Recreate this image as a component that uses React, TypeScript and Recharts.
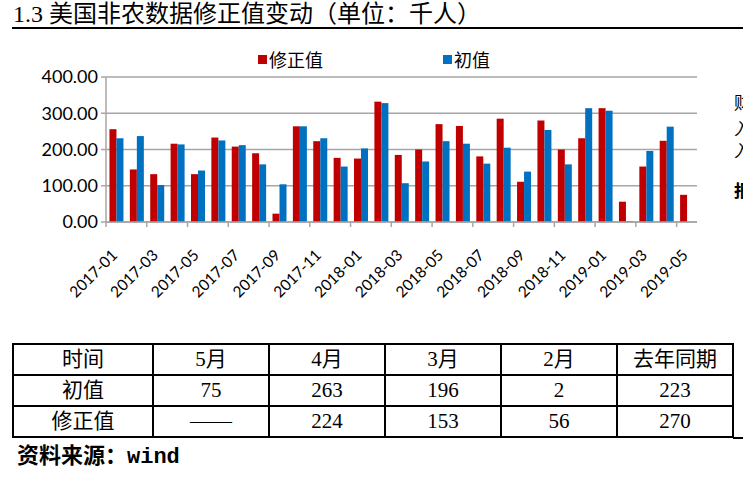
import React from "react";
import { BarChart, Bar, XAxis, YAxis, CartesianGrid, Legend } from "recharts";

const months = [
  "2017-01", "2017-02", "2017-03", "2017-04", "2017-05", "2017-06", "2017-07", "2017-08",
  "2017-09", "2017-10", "2017-11", "2017-12", "2018-01", "2018-02", "2018-03", "2018-04",
  "2018-05", "2018-06", "2018-07", "2018-08", "2018-09", "2018-10", "2018-11", "2018-12",
  "2019-01", "2019-02", "2019-03", "2019-04", "2019-05",
];
const revised = [
  256, 145, 132, 216, 132, 233, 208, 190, 23, 264, 223, 177, 175, 332, 185, 200,
  270, 265, 181, 285, 111, 280, 200, 231, 314, 56, 153, 224, 75,
];
const initial = [
  231, 237, 102, 214, 142, 225, 212, 159, 104, 264, 231, 153, 203, 328, 107, 167,
  223, 216, 161, 205, 139, 254, 159, 314, 307, 2, 196, 263, null,
];
const yTicks = [0, 100, 200, 300, 400];

const tableHead = ["时间", "5月", "4月", "3月", "2月", "去年同期"];
const tableInitial = ["初值", "75", "263", "196", "2", "223"];
const tableRevised = ["修正值", "——", "224", "153", "56", "270"];

const RED = "#C00000";
const BLUE = "#0070C0";
const GRID = "#a6a6a6";
const LABEL_FONT = "Lato, 'Noto Sans CJK SC', sans-serif";
const CJK = "'Liberation Serif', 'Noto Sans CJK SC', serif";

const chartData = months.map((m, i) => ({
  month: m,
  修正值: revised[i],
  初值: initial[i],
}));

const PLOT_W = 591;
const HALF_BAND = PLOT_W / months.length / 2;

function MonthTick(props: any) {
  const { x, y, payload } = props;
  return (
    <g transform={`translate(${x},${y})`}>
      <line x1={-HALF_BAND} y1={-8} x2={-HALF_BAND} y2={-3} stroke={GRID} strokeWidth={1.5} />
      <text
        x={0}
        y={0}
        dx={-17}
        dy={20}
        textAnchor="end"
        transform="rotate(-45)"
        fontSize={15.5}
        fontFamily={LABEL_FONT}
        fill="#000"
      >
        {payload.value}
      </text>
    </g>
  );
}

function renderLegend() {
  const items = [
    { name: "修正值", color: RED, left: 258 },
    { name: "初值", color: BLUE, left: 443 },
  ];
  return (
    <div style={{ position: "relative", height: 24 }}>
      {items.map((it) => (
        <div
          key={it.name}
          style={{
            position: "absolute",
            left: it.left,
            top: 0,
            display: "flex",
            alignItems: "center",
            fontSize: 18,
            fontFamily: "'Noto Sans CJK SC', sans-serif",
            color: "#000",
          }}
        >
          <span style={{ width: 9, height: 9, background: it.color, marginRight: 2, display: "inline-block" }} />
          {it.name}
        </div>
      ))}
    </div>
  );
}

const cell: React.CSSProperties = {
  border: "2px solid #000",
  textAlign: "center",
  padding: 0,
  height: 29,
  fontSize: 21,
  lineHeight: "29px",
  fontFamily: CJK,
};
const colWidths = [140, 116, 116, 116, 116, 116];

export default function App() {
  return (
    <div
      style={{
        position: "fixed",
        left: 0,
        top: 0,
        width: 743,
        height: 477,
        overflow: "hidden",
        background: "#fff",
      }}
    >
      <div
        style={{
          position: "absolute",
          left: 13,
          top: 0,
          fontSize: 24,
          fontFamily: CJK,
          lineHeight: "28px",
          whiteSpace: "nowrap",
        }}
      >
        1.3 美国非农数据修正值变动（单位：千人）
      </div>
      <div style={{ position: "absolute", left: 12, top: 27, width: 740, height: 2, background: "#000" }} />

      <div style={{ position: "absolute", left: 0, top: 0 }}>
        <BarChart
          width={743}
          height={320}
          data={chartData}
          margin={{ top: 77, right: 46, left: 0, bottom: 0 }}
          barCategoryGap="17%"
          barGap={0}
        >
          <CartesianGrid vertical={false} stroke={GRID} strokeWidth={1.5} />
          <XAxis
            dataKey="month"
            interval={1}
            tick={<MonthTick />}
            tickLine={false}
            axisLine={{ stroke: GRID, strokeWidth: 1.5 }}
            height={98}
          />
          <YAxis
            domain={[0, 400]}
            ticks={yTicks}
            width={106}
            tickFormatter={(v) => Number(v).toFixed(2)}
            tick={{ fontSize: 18, fill: "#000", fontFamily: LABEL_FONT }}
            tickSize={5}
            tickMargin={3}
            tickLine={{ stroke: GRID, strokeWidth: 1.5 }}
            axisLine={{ stroke: GRID, strokeWidth: 1.5 }}
          />
          <Legend
            content={renderLegend}
            verticalAlign="middle"
            wrapperStyle={{ top: 46, left: 0, width: 743, height: 24 }}
          />
          <Bar dataKey="修正值" fill={RED} isAnimationActive={false} />
          <Bar dataKey="初值" fill={BLUE} isAnimationActive={false} />
        </BarChart>
      </div>

      {["财", "入", "入", "报"].map((c, i) => (
        <div
          key={i}
          style={{
            position: "absolute",
            left: 734,
            top: [93, 119, 141, 181][i],
            fontSize: 17,
            lineHeight: "17px",
            fontFamily: "'Noto Sans CJK SC', sans-serif",
            fontWeight: i === 3 ? 700 : 400,
          }}
        >
          {c}
        </div>
      ))}

      <table
        style={{
          position: "absolute",
          left: 12,
          top: 343,
          borderCollapse: "collapse",
          tableLayout: "fixed",
          width: 722,
        }}
      >
        <colgroup>
          {colWidths.map((w, i) => (
            <col key={i} style={{ width: w }} />
          ))}
        </colgroup>
        <tbody>
          {[tableHead, tableInitial, tableRevised].map((row, r) => (
            <tr key={r}>
              {row.map((v, c) => (
                <td key={c} style={cell}>
                  {v}
                </td>
              ))}
            </tr>
          ))}
        </tbody>
      </table>
      <div style={{ position: "absolute", left: 733, top: 437, width: 12, height: 2, background: "#000" }} />

      <div
        style={{
          position: "absolute",
          left: 17,
          top: 445,
          fontSize: 22,
          fontWeight: 700,
          fontFamily: "'Liberation Mono', 'Noto Sans CJK SC', monospace",
          lineHeight: "26px",
        }}
      >
        资料来源：wind
      </div>
    </div>
  );
}
